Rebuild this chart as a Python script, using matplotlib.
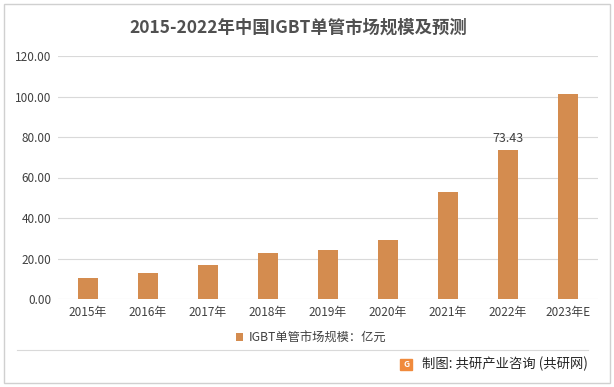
import matplotlib.pyplot as plt
from matplotlib.patches import Rectangle

plt.rcParams['font.family'] = ['Noto Sans CJK SC', 'DejaVu Sans']

# 数据
years = ['2015年', '2016年', '2017年', '2018年', '2019年', '2020年', '2021年', '2022年', '2023年E']
values = [10.4, 12.8, 16.8, 22.7, 24.2, 29.1, 52.8, 73.43, 101.2]
yticks = [0, 20, 40, 60, 80, 100, 120]

bar_color = '#D48C4F'
text_color = '#404040'

fig = plt.figure(figsize=(6.14, 3.87), dpi=100)
ax = fig.add_axes([58 / 614, 1 - 299 / 387, 540 / 614, 243 / 387])

x = range(len(years))
ax.bar(x, values, width=0.32, color=bar_color, zorder=3,
       label='IGBT单管市场规模：亿元')
ax.set_xlim(-0.5, len(years) - 0.5)
ax.set_ylim(0, 120)
ax.set_yticks(yticks)
ax.set_yticklabels([f'{v:.2f}' for v in yticks], fontsize=8.5, color=text_color)
ax.set_xticks(list(x))
ax.set_xticklabels(years, fontsize=8.5, color=text_color)
ax.tick_params(length=0, pad=5)
ax.grid(axis='y', color='#D9D9D9', linewidth=0.8, zorder=0)
for s in ax.spines.values():
    s.set_visible(False)

# 2022年数据标签
ax.annotate(f'{values[7]:.2f}', (7, values[7]), xytext=(0, 4), textcoords='offset points',
            ha='center', va='bottom', fontsize=9, color=text_color)

ax.legend(loc='center', bbox_to_anchor=(311 / 614, 1 - 338 / 387), bbox_transform=fig.transFigure,
          frameon=False, fontsize=8.8, handlelength=0.6, handleheight=0.6, handletextpad=0.4,
          labelcolor=text_color)

fig.text(298 / 614, 1 - 28 / 387, '2015-2022年中国IGBT单管市场规模及预测', ha='center', va='center',
         fontsize=12.5, fontweight='bold', color='#505050')

# 外框和底部分隔线
fig.add_artist(Rectangle((4 / 614, 4 / 387), 606 / 614, 379 / 387, transform=fig.transFigure,
                         fill=False, edgecolor='#D0D0D0', linewidth=1))
fig.add_artist(plt.Line2D([17 / 614, 588 / 614], [1 - 350 / 387, 1 - 350 / 387],
                          transform=fig.transFigure, color='#D9D9D9', linewidth=0.8))

# 来源
fig.add_artist(Rectangle((400 / 614, 1 - 370 / 387), 12 / 614, 11 / 387, transform=fig.transFigure,
                         color='#F08A3C'))
fig.text(406 / 614, 1 - 364.5 / 387, 'G', ha='center', va='center', fontsize=6,
         fontweight='bold', color='white')
fig.text(422 / 614, 1 - 364 / 387, '制图: 共研产业咨询 (共研网)', ha='left', va='center',
         fontsize=9.6, color='#262626')

fig.savefig('out.png', dpi=100)
